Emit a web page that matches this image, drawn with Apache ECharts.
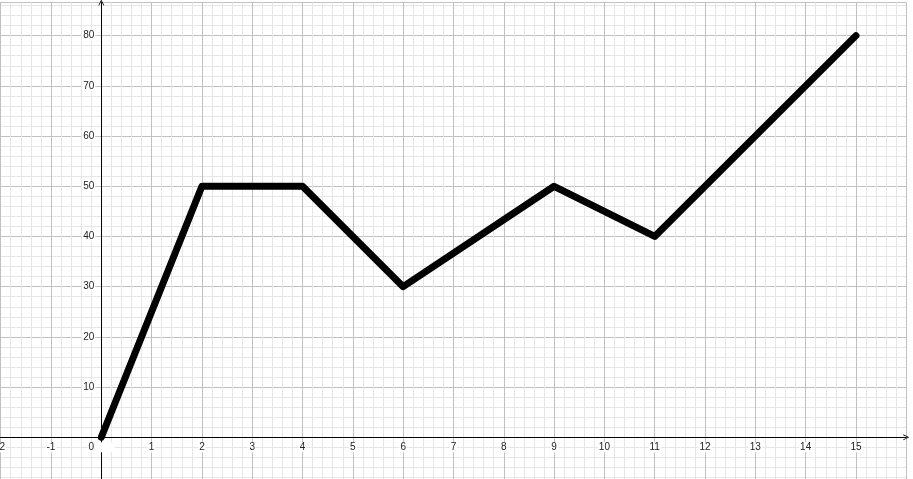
<!DOCTYPE html>
<html>
<head>
<meta charset="utf-8">
<script src="https://cdn.jsdelivr.net/npm/echarts@6/dist/echarts.min.js"></script>
<style>
html,body{margin:0;padding:0;background:#fff;}
#c{width:913px;height:479px;}
</style>
</head>
<body>
<div id="c"></div>
<script>
// Data
const xValues = [0, 2, 4, 6, 9, 11, 15];
const yValues = [0, 50, 50, 30, 50, 40, 80];
const xTicks = [-3, 16, 1];   // min, max, interval
const yTicks = [-10, 86.6, 10]; // min, max, interval

const pxPerX = 50.31, pxPerY = 5.021;
const originX = 101.3, topPx = 2.5;

const chart = echarts.init(document.getElementById('c'), null, {renderer: 'canvas'});
const gridLeft = originX + xTicks[0] * pxPerX;
const gridWidth = (xTicks[1] - xTicks[0]) * pxPerX;
const gridHeight = (yTicks[1] - yTicks[0]) * pxPerY;
// shift axes from grid edges onto the zero lines
const xAxisOffset = yTicks[0] * pxPerY;   // negative: move up
const yAxisOffset = xTicks[0] * pxPerX;   // negative: move right

const labelFont = {fontFamily: 'Liberation Sans', fontSize: 10, color: '#222'};
const chevron = 'path://M0,10 L5,0 L10,10 L8.6,10 L5,2.8 L1.4,10 Z';

chart.setOption({
  animation: false,
  backgroundColor: '#fff',
  grid: {left: gridLeft, top: topPx, width: gridWidth, height: gridHeight,
    containLabel: false, outerBoundsMode: 'none'},
  xAxis: {
    type: 'value', min: xTicks[0], max: xTicks[1], interval: xTicks[2],
    position: 'bottom', offset: xAxisOffset,
    axisLine: {show: true, onZero: false, lineStyle: {color: '#000', width: 1},
      symbol: ['none', chevron], symbolSize: [7, 6]},
    axisTick: {show: false},
    minorTick: {show: false, splitNumber: 5},
    splitLine: {show: true, lineStyle: {color: '#c0c0c0', width: 1}},
    minorSplitLine: {show: true, lineStyle: {color: '#e6e6e6', width: 1}},
    axisLabel: Object.assign({
      margin: 5, showMaxLabel: false, hideOverlap: false,
      backgroundColor: '#fff', padding: [0, 1],
      formatter: function (v) { return v === 0 ? '{z|0}' : String(v); },
      rich: {z: {padding: [0, 20, 0, 0], fontFamily: 'Liberation Sans', fontSize: 10, color: '#222'}}
    }, labelFont)
  },
  yAxis: {
    type: 'value', min: yTicks[0], max: yTicks[1], interval: yTicks[2],
    position: 'left', offset: yAxisOffset,
    axisLine: {show: true, onZero: false, lineStyle: {color: '#000', width: 1},
      symbol: ['none', chevron], symbolSize: [7, 6]},
    axisTick: {show: false},
    minorTick: {show: false, splitNumber: 5},
    splitLine: {show: true, lineStyle: {color: '#c0c0c0', width: 1}},
    minorSplitLine: {show: true, lineStyle: {color: '#e6e6e6', width: 1}},
    axisLabel: Object.assign({
      margin: 6, showMaxLabel: false, hideOverlap: false,
      backgroundColor: '#fff', padding: [0, 1],
      formatter: function (v) { return (v === 0 || v % 10 !== 0) ? '' : String(v); }
    }, labelFont)
  },
  series: [{
    type: 'line',
    data: xValues.map((x, i) => [x, yValues[i]]),
    symbol: 'none',
    clip: false,
    lineStyle: {color: '#000', width: 7, cap: 'round', join: 'round'}
  }]
});
</script>
</body>
</html>
